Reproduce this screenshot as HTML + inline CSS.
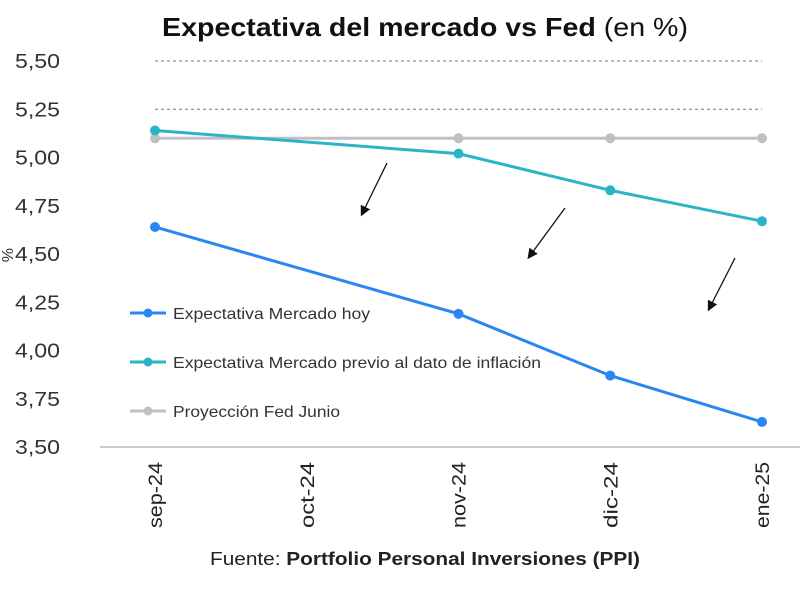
<!DOCTYPE html>
<html><head><meta charset="utf-8"><style>
html,body{margin:0;padding:0;background:#fff;}
svg{display:block;font-family:"Liberation Sans",sans-serif;}
</style></head><body>
<svg id="c" width="800" height="605" viewBox="0 0 800 605">
<defs><marker id="ah" markerWidth="8" markerHeight="8" refX="6" refY="4" orient="auto"><path d="M0,0 L8,4 L0,8 Z" fill="#111"/></marker></defs>
<text x="162" y="36" font-size="26" font-weight="bold" fill="#111" textLength="526" lengthAdjust="spacingAndGlyphs">Expectativa del mercado vs Fed <tspan font-weight="normal">(en %)</tspan></text>
<g id="grid"></g><g id="yt"></g><g id="xt"></g><g id="lines"></g>
<text x="4" y="254" font-size="16" fill="#333" transform="rotate(90 6 250)">%</text>
<line x1="387" y1="163" x2="362" y2="214" stroke="#111" stroke-width="1.3" marker-end="url(#ah)"/>
<line x1="565" y1="208" x2="529" y2="257" stroke="#111" stroke-width="1.3" marker-end="url(#ah)"/>
<line x1="735" y1="258" x2="709" y2="309" stroke="#111" stroke-width="1.3" marker-end="url(#ah)"/>
<g id="legend"></g>
<text x="210" y="565" font-size="18" fill="#222" textLength="430" lengthAdjust="spacingAndGlyphs">Fuente: <tspan font-weight="bold">Portfolio Personal Inversiones (PPI)</tspan></text>
</svg>
<script>
const categories=["sep-24","oct-24","nov-24","dic-24","ene-25"];
const hoyX=[0,2,3,4];
const hoyValues=[4.64,4.19,3.87,3.63];
const previoX=[0,2,3,4];
const previoValues=[5.14,5.02,4.83,4.67];
const fedX=[0,2,3,4];
const fedValues=[5.10,5.10,5.10,5.10];
const yTicks=[3.5,3.75,4.0,4.25,4.5,4.75,5.0,5.25,5.5];
const yTickLabels=["3,50","3,75","4,00","4,25","4,50","4,75","5,00","5,25","5,50"];
const seriesNames=["Expectativa Mercado hoy","Expectativa Mercado previo al dato de inflación","Proyección Fed Junio"];
const legendLens=[197,368,167];
const NS="http://www.w3.org/2000/svg";
const x=i=>155+i*151.75;
const y=v=>447-(v-3.5)/2*386;
function mk(t,a,p){const e=document.createElementNS(NS,t);for(const k in a)e.setAttribute(k,a[k]);p.appendChild(e);return e;}
const G=document.getElementById('grid'),YT=document.getElementById('yt'),XT=document.getElementById('xt'),L=document.getElementById('lines'),LG=document.getElementById('legend');
yTicks.forEach((v,i)=>{
  if(v>=5.25){const g=mk('line',{x1:155,x2:762,y1:y(v),y2:y(v),stroke:'#777','stroke-dasharray':'3,3','stroke-width':1},G);
  
  }
  const t=mk('text',{x:15,y:y(v)+7,'font-size':20,fill:'#333',textLength:45,lengthAdjust:'spacingAndGlyphs'},YT);t.textContent=yTickLabels[i];
  
  
});
const ax=mk('line',{x1:100,x2:800,y1:447,y2:447,stroke:'#ccc','stroke-width':2},G);


categories.forEach((c,i)=>{
  const t=mk('text',{x:-528,y:0,'font-size':19,fill:'#222',textLength:66,lengthAdjust:'spacingAndGlyphs',transform:`translate(${x(i)+7},0) rotate(-90)`},XT);t.textContent=c;
  
  
});
function series(xs,vals,col,name){
  const p=mk('polyline',{points:xs.map((xi,i)=>x(xi)+','+y(vals[i])).join(' '),fill:'none',stroke:col,'stroke-width':3},L);
  
  
  xs.forEach((xi,i)=>{const c=mk('circle',{cx:x(xi),cy:y(vals[i]),r:5,fill:col},L);
  
  });
}
series(fedX,fedValues,'#c0c0c4','fed');
series(previoX,previoValues,'#2ab5c6','previo');
series(hoyX,hoyValues,'#2a86f0','hoy');
const cols=['#2a86f0','#2ab5c6','#c0c0c4'];
[313,362,411].forEach((ly,i)=>{
  const l=mk('line',{x1:130,x2:166,y1:ly,y2:ly,stroke:cols[i],'stroke-width':3},LG);
  
  
  const c=mk('circle',{cx:148,cy:ly,r:4.5,fill:cols[i]},LG);
  
  
  const t=mk('text',{x:173,y:ly+6,'font-size':16,fill:'#333',textLength:legendLens[i],lengthAdjust:'spacingAndGlyphs'},LG);t.textContent=seriesNames[i];
  
  
});
</script>
</body></html>
